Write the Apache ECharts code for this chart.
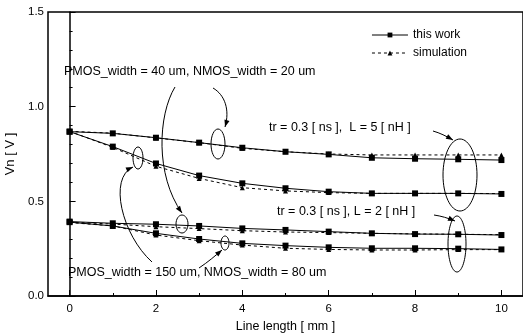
<!DOCTYPE html>
<html>
<head>
<meta charset="utf-8">
<script src="https://cdn.jsdelivr.net/npm/echarts@6/dist/echarts.min.js"></script>
<style>
  html, body { margin: 0; padding: 0; background: #fff; }
  #main { width: 523px; height: 333px; }
</style>
</head>
<body>
<div id="main"></div>
<script>
// line length [mm]
const lengths = [0, 1, 2, 3, 4, 5, 6, 7, 8, 9, 10];

// L = 5 nH, PMOS 40 / NMOS 20
const work5a = [0.868, 0.859, 0.836, 0.810, 0.783, 0.762, 0.748, 0.730, 0.725, 0.722, 0.718];
const sim5a  = [0.870, 0.860, 0.835, 0.810, 0.780, 0.762, 0.750, 0.745, 0.745, 0.745, 0.745];
// L = 5 nH, PMOS 150 / NMOS 80
const work5b = [0.868, 0.789, 0.700, 0.636, 0.595, 0.569, 0.551, 0.542, 0.542, 0.542, 0.539];
const sim5b  = [0.870, 0.785, 0.685, 0.621, 0.572, 0.555, 0.546, 0.542, 0.542, 0.542, 0.541];
// L = 2 nH, PMOS 40 / NMOS 20
const work2a = [0.393, 0.384, 0.379, 0.370, 0.357, 0.349, 0.340, 0.331, 0.327, 0.326, 0.322];
const sim2a  = [0.390, 0.380, 0.366, 0.356, 0.345, 0.338, 0.335, 0.331, 0.328, 0.326, 0.324];
// L = 2 nH, PMOS 150 / NMOS 80
const work2b = [0.390, 0.370, 0.331, 0.301, 0.278, 0.266, 0.257, 0.252, 0.252, 0.250, 0.246];
const sim2b  = [0.388, 0.370, 0.322, 0.292, 0.269, 0.252, 0.246, 0.243, 0.243, 0.245, 0.245];

const xMajor = [0, 2, 4, 6, 8, 10];
const xMinor = [1, 3, 5, 7, 9];

const font = 'Liberation Sans, Arial, sans-serif';

function pair(arr) {
  return lengths.map((x, i) => [x, arr[i]]);
}

function workSeries(arr) {
  return {
    name: 'this work', type: 'line', data: pair(arr),
    symbol: 'rect', symbolSize: 6,
    itemStyle: { color: '#000' },
    lineStyle: { color: '#000', width: 1 },
    z: 3
  };
}

function simSeries(arr) {
  return {
    name: 'simulation', type: 'line', data: pair(arr),
    symbol: 'triangle', symbolSize: 5,
    itemStyle: { color: '#000' },
    lineStyle: { color: '#000', width: 1, type: [3, 3] },
    z: 2
  };
}

// annotation helpers (pixel positions)
function arrowHead(x, y, fx, fy) {
  const a = Math.atan2(y - fy, x - fx);
  const len = 7, hw = 2.6;
  const bx = x - len * Math.cos(a), by = y - len * Math.sin(a);
  return {
    type: 'polygon', z: 10,
    shape: { points: [[x, y],
      [bx + hw * Math.sin(a), by - hw * Math.cos(a)],
      [bx - hw * Math.sin(a), by + hw * Math.cos(a)]] },
    style: { fill: '#000' }
  };
}

function curve(x1, y1, c1x, c1y, c2x, c2y, x2, y2) {
  return [{
    type: 'bezierCurve', z: 10,
    shape: { x1: x1, y1: y1, cpx1: c1x, cpy1: c1y, cpx2: c2x, cpy2: c2y, x2: x2, y2: y2 },
    style: { stroke: '#000', lineWidth: 1, fill: null }
  }, arrowHead(x2, y2, c2x, c2y)];
}

function ellipse(cx, cy, rx, ry) {
  return {
    type: 'ellipse', z: 10,
    shape: { cx: cx, cy: cy, rx: rx, ry: ry },
    style: { stroke: '#000', lineWidth: 1, fill: null }
  };
}

function label(x, y, text) {
  return {
    type: 'text', z: 10, x: x, y: y,
    style: { text: text, font: '12.5px ' + font, fill: '#000', textVerticalAlign: 'middle' }
  };
}

const graphics = [
  label(64, 72, 'PMOS_width = 40 um, NMOS_width = 20 um'),
  label(269, 128, 'tr = 0.3 [ ns ],  L = 5 [ nH ]'),
  label(277, 212, 'tr = 0.3 [ ns ], L = 2 [ nH ]'),
  label(68, 273, 'PMOS_width = 150 um, NMOS_width = 80 um'),
  ellipse(218, 144, 7, 15),
  ellipse(138, 158, 5, 11),
  ellipse(182, 224, 6, 9),
  ellipse(225, 243, 4, 7),
  ellipse(460, 175, 17, 36),
  ellipse(457, 244, 9, 28)
].concat(
  curve(213, 88, 225, 95, 230, 110, 225, 127),
  curve(175, 87, 158, 115, 155, 175, 182, 213),
  curve(152, 262, 122, 235, 108, 178, 133, 167),
  curve(199, 268, 208, 262, 215, 256, 222, 250),
  curve(433, 131, 440, 133, 446, 136, 453, 140),
  curve(434, 215, 441, 216, 448, 218, 455, 221)
);

const chart = echarts.init(document.getElementById('main'));

chart.setOption({
  backgroundColor: '#fff',
  animation: false,
  textStyle: { fontFamily: font },
  grid: {
    left: 48, right: 0, top: 12, bottom: 37,
    outerBoundsMode: 'none',
    show: true, borderColor: '#000', borderWidth: 1.5
  },
  legend: {
    data: ['this work', 'simulation'],
    orient: 'vertical', right: 51, top: 24,
    itemWidth: 36, itemHeight: 6, itemGap: 6,
    lineStyle: { width: 1 },
    textStyle: { fontSize: 12, color: '#000', fontFamily: font }
  },
  xAxis: [{
    type: 'value', min: -0.5, max: 10.5,
    name: 'Line length [ mm ]', nameLocation: 'middle', nameGap: 22,
    nameTextStyle: { fontSize: 12.5, color: '#000' },
    axisLine: { lineStyle: { color: '#000', width: 1.5 } },
    axisTick: { inside: true, length: 6, customValues: xMajor, lineStyle: { color: '#000' } },
    axisLabel: { customValues: xMajor, color: '#000', fontSize: 11.5, margin: 7 },
    splitLine: { show: false }
  }, {
    type: 'value', min: -0.5, max: 10.5, position: 'bottom',
    axisLine: { show: false },
    axisTick: { inside: true, length: 3, customValues: xMinor, lineStyle: { color: '#000' } },
    axisLabel: { show: false },
    splitLine: { show: false }
  }],
  yAxis: {
    type: 'value', min: 0, max: 1.5, interval: 0.5,
    name: 'Vn [ V ]', nameLocation: 'middle', nameGap: 28, nameRotate: 90,
    nameTextStyle: { fontSize: 13, color: '#000' },
    axisLine: { show: true, lineStyle: { color: '#000', width: 1.5 } },
    axisTick: { show: true, inside: true, length: 6, lineStyle: { color: '#000' } },
    minorTick: { show: true, splitNumber: 5, length: 3, lineStyle: { color: '#000' } },
    axisLabel: { color: '#000', fontSize: 11.5, margin: 4, formatter: v => v.toFixed(1) },
    splitLine: { show: false }
  },
  series: [
    workSeries(work5a), simSeries(sim5a),
    workSeries(work5b), simSeries(sim5b),
    workSeries(work2a), simSeries(sim2a),
    workSeries(work2b), simSeries(sim2b)
  ],
  graphic: graphics
});
</script>
</body>
</html>
